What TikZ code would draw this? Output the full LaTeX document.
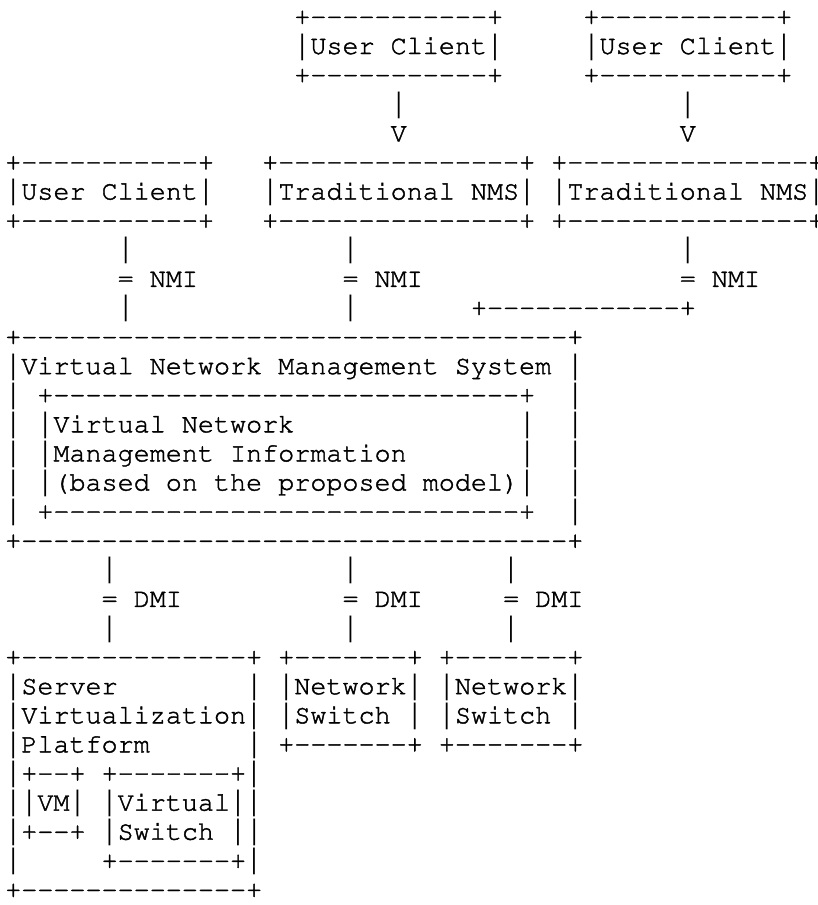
\documentclass[tikz,border=0pt]{standalone}
\usepackage[T1]{fontenc}
\usepackage{fontspec}
\usepackage{courier}
\usepackage{graphicx}
% full-height vertical bar glyph, so that stacked bars read as one line
\newfontfamily\barfont{DejaVu Sans Mono}
% typewriter text, drawn with a thin outline so that the strokes are a bit heavier
\tikzset{
  asc/.style={anchor=base west, inner sep=0pt, outer sep=0pt,
    font=\fontencoding{T1}\fontfamily{pcr}\fontseries{m}\fontshape{n}%
         \fontsize{13.38pt}{14.55pt}\selectfont
         \special{pdf:literal direct 2 Tr 0.2 w}}
}
% character grid: one column is 8.03pt wide, one row 14.55pt high
\newcommand\cell[4]{\node[asc] (#1) at ({2.635pt+8.03pt*#2},{-12.45pt-14.55pt*#3}) {#4};}
% a run of hyphens that never turns into a dash ligature
\newcommand\dsh[1]{\foreach\k in {1,...,#1}{-}}
% thin bar, filled only, one column wide
\newcommand\vb{\makebox[8.03pt][c]{\special{pdf:literal direct 0 Tr}%
  \scalebox{0.8}[1]{\barfont |}\special{pdf:literal direct 2 Tr}}}
\begin{document}
\begin{tikzpicture}
\fill[white] (0,0) rectangle (409pt,-452.5pt);
\useasboundingbox (0,0) rectangle (409pt,-452.5pt);

% user clients on top of the traditional NMSs
\cell{ucAt}{18}{0}{+\dsh{11}+}
\cell{ucA}{18}{1}{\vb User Client\vb}
\cell{ucAb}{18}{2}{+\dsh{11}+}
\cell{ucBt}{36}{0}{+\dsh{11}+}
\cell{ucB}{36}{1}{\vb User Client\vb}
\cell{ucBb}{36}{2}{+\dsh{11}+}
\cell{ucAbar}{24}{3}{\vb}
\cell{ucAarr}{24}{4}{V}
\cell{ucBbar}{42}{3}{\vb}
\cell{ucBarr}{42}{4}{V}

% direct user client and the two traditional NMSs
\cell{ucCt}{0}{5}{+\dsh{11}+}
\cell{ucC}{0}{6}{\vb User Client\vb}
\cell{ucCb}{0}{7}{+\dsh{11}+}
\cell{nmsAt}{16}{5}{+\dsh{15}+}
\cell{nmsA}{16}{6}{\vb Traditional NMS\vb}
\cell{nmsAb}{16}{7}{+\dsh{15}+}
\cell{nmsBt}{34}{5}{+\dsh{15}+}
\cell{nmsB}{34}{6}{\vb Traditional NMS\vb}
\cell{nmsBb}{34}{7}{+\dsh{15}+}

% NMI links
\cell{nmiAa}{7}{8}{\vb}
\cell{nmiA}{7}{9}{= NMI}
\cell{nmiAb}{7}{10}{\vb}
\cell{nmiBa}{21}{8}{\vb}
\cell{nmiB}{21}{9}{= NMI}
\cell{nmiBb}{21}{10}{\vb}
\cell{nmiCa}{42}{8}{\vb}
\cell{nmiC}{42}{9}{= NMI}
\cell{nmiCb}{29}{10}{+\dsh{12}+}

% virtual network management system
\cell{vnmsT}{0}{11}{+\dsh{34}+}
\cell{vnms}{0}{12}{\vb Virtual Network Management System}
\cell{vnmsR12}{35}{12}{\vb}
\cell{vnmsL13}{0}{13}{\vb}
\cell{vnmiT}{2}{13}{+\dsh{29}+}
\cell{vnmsR13}{35}{13}{\vb}
\cell{vnmsL14}{0}{14}{\vb}
\cell{vnmiA}{2}{14}{\vb Virtual Network}
\cell{vnmiR14}{32}{14}{\vb}
\cell{vnmsR14}{35}{14}{\vb}
\cell{vnmsL15}{0}{15}{\vb}
\cell{vnmiB}{2}{15}{\vb Management Information}
\cell{vnmiR15}{32}{15}{\vb}
\cell{vnmsR15}{35}{15}{\vb}
\cell{vnmsL16}{0}{16}{\vb}
\cell{vnmiC}{2}{16}{\vb(based on the proposed model)\vb}
\cell{vnmsR16}{35}{16}{\vb}
\cell{vnmsL17}{0}{17}{\vb}
\cell{vnmiBot}{2}{17}{+\dsh{29}+}
\cell{vnmsR17}{35}{17}{\vb}
\cell{vnmsB}{0}{18}{+\dsh{34}+}

% DMI links
\cell{dmiAa}{6}{19}{\vb}
\cell{dmiA}{6}{20}{= DMI}
\cell{dmiAb}{6}{21}{\vb}
\cell{dmiBa}{21}{19}{\vb}
\cell{dmiB}{21}{20}{= DMI}
\cell{dmiBb}{21}{21}{\vb}
\cell{dmiCa}{31}{19}{\vb}
\cell{dmiC}{31}{20}{= DMI}
\cell{dmiCb}{31}{21}{\vb}

% server virtualization platform
\cell{svpT}{0}{22}{+\dsh{14}+}
\cell{svpA}{0}{23}{\vb Server}
\cell{svpR23}{15}{23}{\vb}
\cell{svpB}{0}{24}{\vb Virtualization\vb}
\cell{svpC}{0}{25}{\vb Platform}
\cell{svpR25}{15}{25}{\vb}
\cell{vmT}{0}{26}{\vb+\dsh{2}+}
\cell{vswT}{6}{26}{+\dsh{7}+\vb}
\cell{vm}{0}{27}{\vb\vb VM\vb}
\cell{vswA}{6}{27}{\vb Virtual\vb\vb}
\cell{vmB}{0}{28}{\vb+\dsh{2}+}
\cell{vswB}{6}{28}{\vb Switch}
\cell{vswR28}{14}{28}{\vb\vb}
\cell{svpL29}{0}{29}{\vb}
\cell{vswBot}{6}{29}{+\dsh{7}+\vb}
\cell{svpBot}{0}{30}{+\dsh{14}+}

% network switches
\cell{nswAt}{17}{22}{+\dsh{7}+}
\cell{nswA}{17}{23}{\vb Network\vb}
\cell{nswAs}{17}{24}{\vb Switch}
\cell{nswAr}{25}{24}{\vb}
\cell{nswAb}{17}{25}{+\dsh{7}+}
\cell{nswBt}{27}{22}{+\dsh{7}+}
\cell{nswB}{27}{23}{\vb Network\vb}
\cell{nswBs}{27}{24}{\vb Switch}
\cell{nswBr}{35}{24}{\vb}
\cell{nswBb}{27}{25}{+\dsh{7}+}
\end{tikzpicture}
\end{document}
